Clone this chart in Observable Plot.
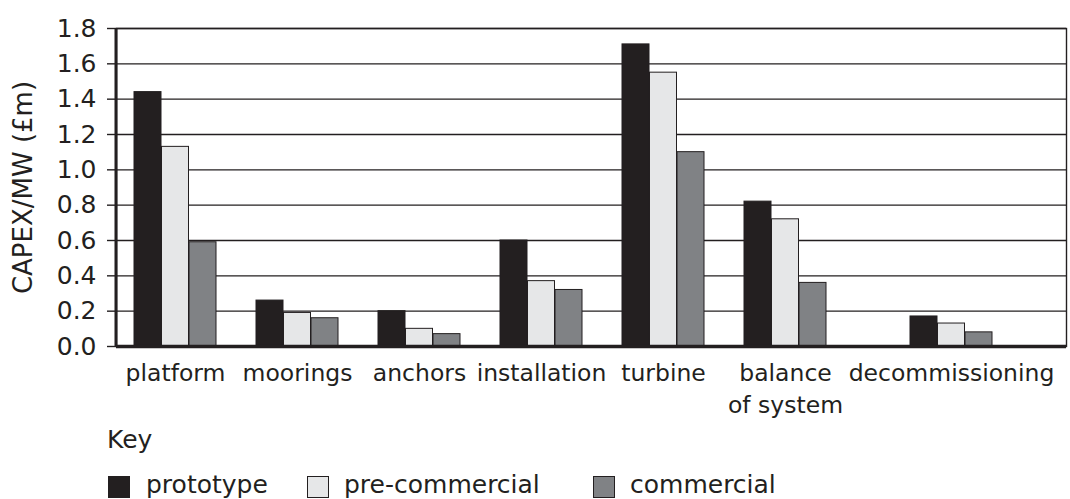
<!DOCTYPE html>
<html>
<head>
<meta charset="utf-8">
<script src="https://cdn.jsdelivr.net/npm/d3@7"></script>
<script src="https://cdn.jsdelivr.net/npm/@observablehq/plot@0.6"></script>
<style>
  html, body { margin: 0; padding: 0; background: #fff; overflow: hidden; }
  #wrap { position: relative; width: 1070px; height: 499px; font-family: "DejaVu Sans", sans-serif; color: #231f20; }
  #legend-title { position: absolute; left: 107px; top: 425px; font-size: 25px; line-height: 29px; }
  .item { position: absolute; top: 476px; height: 22px; font-size: 25px; line-height: 22px; white-space: nowrap; }
  .sw { position: absolute; left: 0; top: 0; width: 20px; height: 20px; border: 1px solid #231f20; }
  .lab { position: absolute; top: -2px; }
</style>
</head>
<body>
<div id="wrap">
  <div id="chart"></div>
  <div id="legend-title">Key</div>
  <div id="legend"></div>
</div>
<script>
const categories = ["platform", "moorings", "anchors", "installation", "turbine", "balance of system", "decommissioning"];
const tickLabels = ["platform", "moorings", "anchors", "installation", "turbine", "balance\nof system", "decommissioning"];
const seriesNames = ["prototype", "pre-commercial", "commercial"];
const prototype = [1.44, 0.26, 0.20, 0.60, 1.71, 0.82, 0.17];
const preCommercial = [1.13, 0.19, 0.10, 0.37, 1.55, 0.72, 0.13];
const commercial = [0.59, 0.16, 0.07, 0.32, 1.10, 0.36, 0.08];
const yTicks = [0, 0.2, 0.4, 0.6, 0.8, 1.0, 1.2, 1.4, 1.6, 1.8];

const colors = ["#231f20", "#e6e7e8", "#808285"];
const seriesValues = [prototype, preCommercial, commercial];
const rows = [];
seriesValues.forEach((vals, s) => vals.forEach((v, i) => rows.push({category: categories[i], series: seriesNames[s], value: v})));

const ink = "#231f20";
const font = "DejaVu Sans, sans-serif";
const barW = 27.5;
const insets = [[0, 2 * barW], [barW, barW], [2 * barW, 0]];
// the last group sits further right in the original layout
const lastCat = categories[categories.length - 1];
const lastShift = 44;

const leftAxisLine = (index, scales, values, dimensions) => {
  const d = dimensions;
  const line = document.createElementNS("http://www.w3.org/2000/svg", "line");
  line.setAttribute("x1", d.marginLeft);
  line.setAttribute("x2", d.marginLeft);
  line.setAttribute("y1", d.marginTop);
  line.setAttribute("y2", d.height - d.marginBottom);
  line.setAttribute("stroke", ink);
  line.setAttribute("stroke-width", 3);
  return line;
};

const barMarks = [];
seriesNames.forEach((name, s) => {
  const common = {
    x: "category", y: "value",
    fill: colors[s], stroke: ink, strokeWidth: 1,
    insetLeft: insets[s][0], insetRight: insets[s][1]
  };
  barMarks.push(Plot.barY(rows.filter(r => r.series === name && r.category !== lastCat), common));
  barMarks.push(Plot.barY(rows.filter(r => r.series === name && r.category === lastCat), {...common, dx: lastShift}));
});

const xAxisOpts = {
  tickSize: 0, tickPadding: 12, fontSize: 23.5, fill: ink, lineHeight: 1.36,
  tickFormat: d => tickLabels[categories.indexOf(d)], label: null
};

const chart = Plot.plot({
  width: 1070,
  height: 420,
  marginLeft: 116,
  marginRight: 4,
  marginTop: 28,
  marginBottom: 74,
  style: {fontFamily: font, fontSize: "23.5px", color: ink, background: "white"},
  x: {domain: categories, range: [131.75, 949.85], paddingInner: 0.327, paddingOuter: 0, type: "band"},
  y: {domain: [0, 1.8]},
  marks: [
    Plot.gridY(yTicks, {stroke: ink, strokeOpacity: 1, strokeWidth: 1.4}),
    Plot.frame({stroke: ink, strokeWidth: 1.4}),
    ...barMarks,
    Plot.axisY(yTicks, {
      tickSize: 9, tickPadding: 11, tickFormat: d => d.toFixed(1),
      fontSize: 25, stroke: ink, strokeWidth: 1.4, fill: ink,
      label: "CAPEX/MW (£m)", labelAnchor: "center", labelArrow: false, labelOffset: 103
    }),
    Plot.axisX(categories.filter(c => c !== lastCat), xAxisOpts),
    Plot.axisX([lastCat], {...xAxisOpts, dx: lastShift}),
    Plot.ruleY([0], {stroke: ink, strokeWidth: 3.5}),
    leftAxisLine
  ]
});
document.getElementById("chart").appendChild(chart);
// enlarge the y-axis title slightly, as in the original
chart.querySelectorAll("g[aria-label='y-axis label'] text").forEach(t => t.setAttribute("font-size", 26));

const legendPos = [{sw: 108, lab: 146}, {sw: 307, lab: 344}, {sw: 593, lab: 630}];
const legend = document.getElementById("legend");
seriesNames.forEach((name, s) => {
  const item = document.createElement("div");
  item.className = "item";
  item.style.left = legendPos[s].sw + "px";
  const sw = document.createElement("div");
  sw.className = "sw";
  sw.style.background = colors[s];
  const lab = document.createElement("div");
  lab.className = "lab";
  lab.style.left = (legendPos[s].lab - legendPos[s].sw) + "px";
  lab.textContent = name;
  item.appendChild(sw);
  item.appendChild(lab);
  legend.appendChild(item);
});
</script>
</body>
</html>
